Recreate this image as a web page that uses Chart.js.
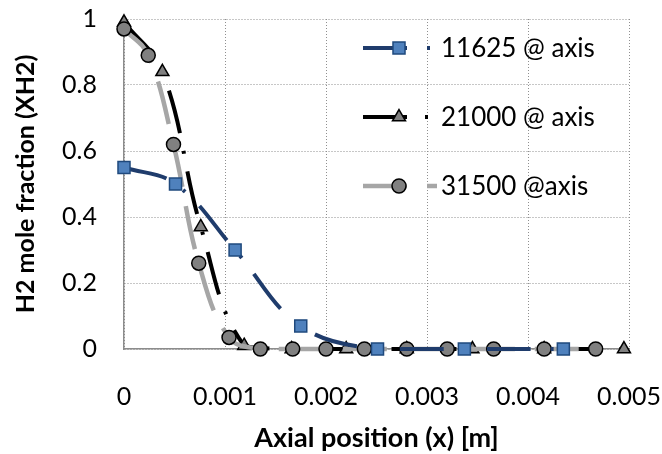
<!DOCTYPE html>
<html>
<head>
<meta charset="utf-8">
<script src="https://cdn.jsdelivr.net/npm/chart.js@4.4.1/dist/chart.umd.min.js"></script>
<style>
  html, body { margin: 0; padding: 0; background: #fff; }
  #wrap { width: 662px; height: 454px; position: relative; }
</style>
</head>
<body>
<div id="wrap"><canvas id="chart" width="662" height="454"></canvas></div>
<script>
// ---- data ----
const xTicks = [0, 0.001, 0.002, 0.003, 0.004, 0.005];
const yTicks = [0, 0.2, 0.4, 0.6, 0.8, 1];

const labels = ['11625 @ axis', '21000 @ axis', '31500 @axis'];

const sqX = [0, 0.00051, 0.00110, 0.00175, 0.00251, 0.00337, 0.00435];
const sqY = [0.55, 0.50, 0.30, 0.07, 0, 0, 0];

const triX = [0, 0.00038, 0.00076, 0.00119, 0.00166, 0.0022, 0.0028, 0.00345, 0.00416, 0.00495];
const triY = [0.99, 0.84, 0.37, 0.01, 0, 0, 0, 0, 0, 0];

const cirX = [0, 0.00024, 0.00049, 0.00074, 0.00104, 0.00135, 0.00167, 0.0020, 0.00238, 0.0028, 0.0032, 0.00366, 0.00416, 0.00467];
const cirY = [0.97, 0.89, 0.62, 0.26, 0.035, 0, 0, 0, 0, 0, 0, 0, 0, 0];

const pts = (xs, ys) => xs.map((x, i) => ({ x, y: ys[i] }));

const FONT = 'Lato, "Open Sans", sans-serif';

const datasets = [
  {
    label: labels[0],
    data: pts(sqX, sqY),
    borderColor: '#1F3C6C',
    borderWidth: 4,
    borderDash: [44, 20, 3, 20],
    pointStyle: 'rect',
    pointRadius: 8.5,
    pointBackgroundColor: '#4F81BD',
    pointBorderColor: '#1F497D',
    pointBorderWidth: 1.5,
    order: 0
  },
  {
    label: labels[1],
    data: pts(triX, triY),
    borderColor: '#000000',
    borderWidth: 4,
    borderDash: [44, 18, 3, 18],
    pointStyle: 'triangle',
    pointRadius: 7.5,
    pointBackgroundColor: '#808080',
    pointBorderColor: '#000000',
    pointBorderWidth: 1.5,
    order: 2
  },
  {
    label: labels[2],
    data: pts(cirX, cirY),
    borderColor: '#A6A6A6',
    borderWidth: 4.5,
    borderDash: [44, 20],
    pointStyle: 'circle',
    pointRadius: 7,
    pointBackgroundColor: '#808080',
    pointBorderColor: '#000000',
    pointBorderWidth: 1.5,
    order: 1
  }
];
datasets.forEach(d => { d.tension = 0.4; d.clip = false; d.fill = false; });

// legend drawn inside the plot, like the original
const innerLegend = {
  id: 'innerLegend',
  afterDraw(chart) {
    const ctx = chart.ctx;
    const rows = [48, 117, 186];
    datasets.forEach((d, i) => {
      const y = rows[i];
      ctx.save();
      ctx.strokeStyle = d.borderColor;
      ctx.lineWidth = d.borderWidth;
      ctx.setLineDash(d.borderDash);
      ctx.beginPath();
      ctx.moveTo(363, y);
      ctx.lineTo(437, y);
      ctx.stroke();
      ctx.setLineDash([]);
      ctx.fillStyle = d.pointBackgroundColor;
      ctx.strokeStyle = d.pointBorderColor;
      ctx.lineWidth = d.pointBorderWidth;
      Chart.helpers.drawPoint(ctx, { pointStyle: d.pointStyle, radius: d.pointRadius, borderWidth: d.pointBorderWidth, rotation: 0 }, 399, y);
      ctx.fillStyle = '#000';
      ctx.font = '26px ' + FONT;
      ctx.textAlign = 'left';
      ctx.textBaseline = 'middle';
      ctx.fillText(d.label, 441, y + 1);
      ctx.restore();
    });
  }
};

new Chart(document.getElementById('chart'), {
  type: 'line',
  data: { datasets },
  plugins: [innerLegend],
  options: {
    responsive: false,
    animation: false,
    layout: { padding: { top: 19, right: 33, bottom: 0, left: 0 } },
    plugins: { legend: { display: false }, tooltip: { enabled: false } },
    scales: {
      x: {
        type: 'linear',
        min: 0,
        max: 0.005,
        afterBuildTicks: s => { s.ticks = xTicks.map(v => ({ value: v })); },
        afterFit: s => { s.height = 105; s.paddingLeft = 0; s.paddingRight = 0; },
        ticks: {
          padding: 33,
          color: '#000',
          font: { family: FONT, size: 25 },
          callback: v => String(v)
        },
        grid: { color: '#8F8F8F', drawTicks: false, lineWidth: 1 },
        border: { display: true, color: '#8C8C8C', width: 1.5, dash: [1, 2] },
        title: {
          display: true,
          text: 'Axial position (x) [m]',
          color: '#000',
          font: { family: FONT, size: 27, weight: 'bold' },
          padding: { top: 0, bottom: 0 }
        }
      },
      y: {
        type: 'linear',
        min: 0,
        max: 1,
        afterBuildTicks: s => { s.ticks = yTicks.map(v => ({ value: v })); },
        afterFit: s => { s.width = 124; s.paddingTop = 0; s.paddingBottom = 0; },
        ticks: {
          padding: 27,
          color: '#000',
          font: { family: FONT, size: 25 },
          callback: v => String(v)
        },
        grid: { color: '#8F8F8F', drawTicks: false, lineWidth: 1 },
        border: { display: true, color: '#8C8C8C', width: 1.5, dash: [1, 2] },
        title: {
          display: true,
          text: 'H2 mole fraction (XH2)',
          color: '#000',
          font: { family: FONT, size: 25, weight: 'bold' },
          padding: { top: 11, bottom: 0 }
        }
      }
    }
  }
});
</script>
</body>
</html>
